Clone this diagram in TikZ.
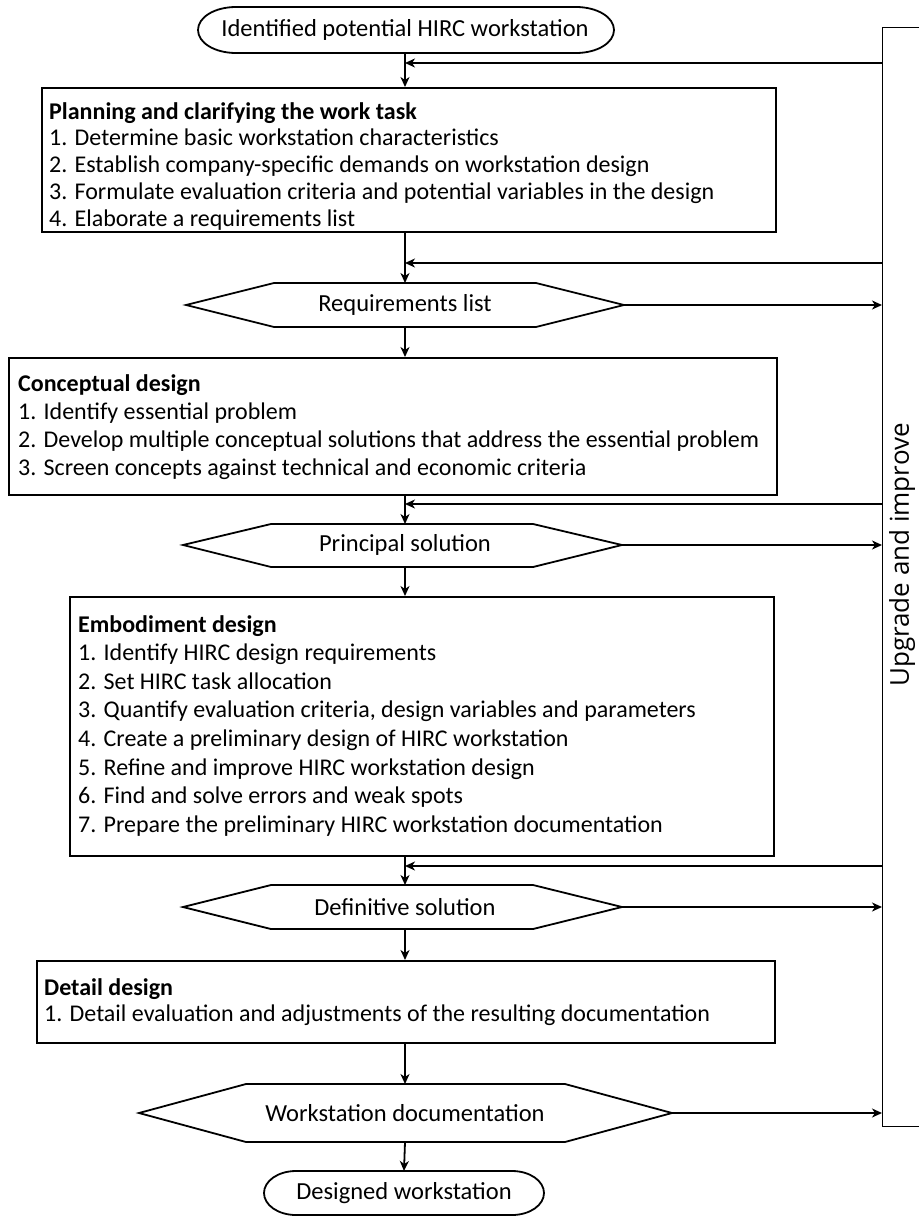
\documentclass[tikz,border=0pt]{standalone}
\usepackage{fontspec}
\setmainfont{Carlito}
\newfontfamily\sidefont{Open Sans}
\usetikzlibrary{arrows.meta}
\begin{document}
\begin{tikzpicture}[x=1pt,y=-1pt,
  boxline/.style={draw=black,line width=1.8pt},
  boxtext/.style={anchor=north west,inner sep=0pt,align=left,font=\fontsize{24}{26.8}\selectfont},
  shapetext/.style={inner sep=0pt,font=\fontsize{24.5}{27}\selectfont},
  flow/.style={line width=1.8pt,-{Stealth[length=10pt,width=9pt,inset=3pt]}},
  fb/.style={line width=1.8pt,-{Stealth[length=10pt,width=9pt,inset=3pt]}},
  bracketline/.style={line width=1pt}
]
\useasboundingbox (0,0) rectangle (919,1216);

% ---- terminator: start
\node[shapetext] (start) at (405,30) {Identified potential HIRC workstation};
\draw[boxline] (236,7) -- (576,7)
  .. controls (597,7) and (614,17) .. (614,30)
  .. controls (614,43) and (597,53) .. (576,53)
  -- (236,53)
  .. controls (215,53) and (198,43) .. (198,30)
  .. controls (198,17) and (215,7) .. (236,7) -- cycle;
\coordinate (startB) at (405,53);

% ---- bracket
\coordinate (brT) at (882,27);
\coordinate (brB) at (882,1126);
\draw[bracketline] (919,27) -- (brT) -- (brB) -- (919,1126);
\node[font=\sidefont\fontsize{26}{30}\selectfont,rotate=90] (upg) at (902,555) {Upgrade and improve};

% ---- Planning box
\node[boxline,minimum width=734pt,minimum height=144pt,anchor=north west,inner sep=0pt] (plan) at (41,87) {};
\node[boxtext] (planT) at (49,102) {\textbf{Planning and clarifying the work task}\\
1. Determine basic workstation characteristics\\
2. Establish company-specific demands on workstation design\\
3. Formulate evaluation criteria and potential variables in the design\\
4. Elaborate a requirements list};

% ---- Requirements hexagon
\node[shapetext] (req) at (405,305) {Requirements list};
\draw[boxline] (186,305) -- (274,283) -- (536,283) -- (624,305) -- (536,327) -- (274,327) -- cycle;
\coordinate (reqT) at (405,283);
\coordinate (reqB) at (405,327);
\coordinate (reqR) at (624,305);

% ---- Conceptual box
\node[boxline,minimum width=768pt,minimum height=137pt,anchor=north west,inner sep=0pt] (con) at (8,357) {};
\node[boxtext,font=\fontsize{24}{28.3}\selectfont] (conT) at (18,374) {\textbf{Conceptual design}\\
1. Identify essential problem\\
2. Develop multiple conceptual solutions that address the essential problem\\
3. Screen concepts against technical and economic criteria};

% ---- Principal hexagon
\node[shapetext] (pri) at (405,545) {Principal solution};
\draw[boxline] (183,545) -- (271,524) -- (533,524) -- (622,545) -- (533,567) -- (271,567) -- cycle;
\coordinate (priT) at (405,524);
\coordinate (priB) at (405,567);
\coordinate (priR) at (622,545);

% ---- Embodiment box
\node[boxline,minimum width=704pt,minimum height=259pt,anchor=north west,inner sep=0pt] (emb) at (69,596) {};
\node[boxtext,font=\fontsize{24}{28.6}\selectfont] (embT) at (78,615) {\textbf{Embodiment design}\\
1. Identify HIRC design requirements\\
2. Set HIRC task allocation\\
3. Quantify evaluation criteria, design variables and parameters\\
4. Create a preliminary design of HIRC workstation\\
5. Refine and improve HIRC workstation design\\
6. Find and solve errors and weak spots\\
7. Prepare the preliminary HIRC workstation documentation};

% ---- Definitive hexagon
\node[shapetext] (def) at (405,907) {Definitive solution};
\draw[boxline] (183,907) -- (271,885) -- (533,885) -- (622,907) -- (533,929) -- (271,929) -- cycle;
\coordinate (defT) at (405,885);
\coordinate (defB) at (405,929);
\coordinate (defR) at (622,907);

% ---- Detail box
\node[boxline,minimum width=738pt,minimum height=82pt,anchor=north west,inner sep=0pt] (det) at (36,960) {};
\node[boxtext] (detT) at (44,978) {\textbf{Detail design}\\
1. Detail evaluation and adjustments of the resulting documentation};

% ---- Workstation documentation hexagon
\node[shapetext] (doc) at (405,1113) {Workstation documentation};
\draw[boxline] (139,1113) -- (246,1084) -- (565,1084) -- (672,1113) -- (565,1142) -- (246,1142) -- cycle;
\coordinate (docT) at (405,1084);
\coordinate (docB) at (405,1142);
\coordinate (docR) at (672,1113);

% ---- terminator: end
\node[shapetext] (end) at (404,1193) {Designed workstation};
\draw[boxline] (296,1171) -- (512,1171)
  .. controls (530,1171) and (544,1181) .. (544,1193)
  .. controls (544,1205) and (530,1215) .. (512,1215)
  -- (296,1215)
  .. controls (278,1215) and (264,1205) .. (264,1193)
  .. controls (264,1181) and (278,1171) .. (296,1171) -- cycle;
\coordinate (endT) at (404,1171);

% ---- main flow
\draw[flow] (startB) -- (plan.north -| startB);
\draw[flow] (plan.south -| startB) -- (reqT);
\draw[flow] (reqB) -- (con.north -| reqB);
\draw[flow] (con.south -| reqB) -- (priT);
\draw[flow] (priB) -- (emb.north -| priB);
\draw[flow] (emb.south -| priB) -- (defT);
\draw[flow] (defB) -- (det.north -| defB);
\draw[flow] (det.south -| defB) -- (docT);
\draw[flow] (docB) -- (endT);

% ---- outputs to bracket
\draw[fb] (reqR) -- (reqR -| brT);
\draw[fb] (priR) -- (priR -| brT);
\draw[fb] (defR) -- (defR -| brT);
\draw[fb] (docR) -- (docR -| brT);

% ---- feedback
\coordinate (f1) at (882,63);
\coordinate (f2) at (882,263);
\coordinate (f3) at (882,504);
\coordinate (f4) at (882,866);
\draw[fb] (f1) -- (f1 -| startB);
\draw[fb] (f2) -- (f2 -| startB);
\draw[fb] (f3) -- (f3 -| startB);
\draw[fb] (f4) -- (f4 -| startB);
\end{tikzpicture}
\end{document}
